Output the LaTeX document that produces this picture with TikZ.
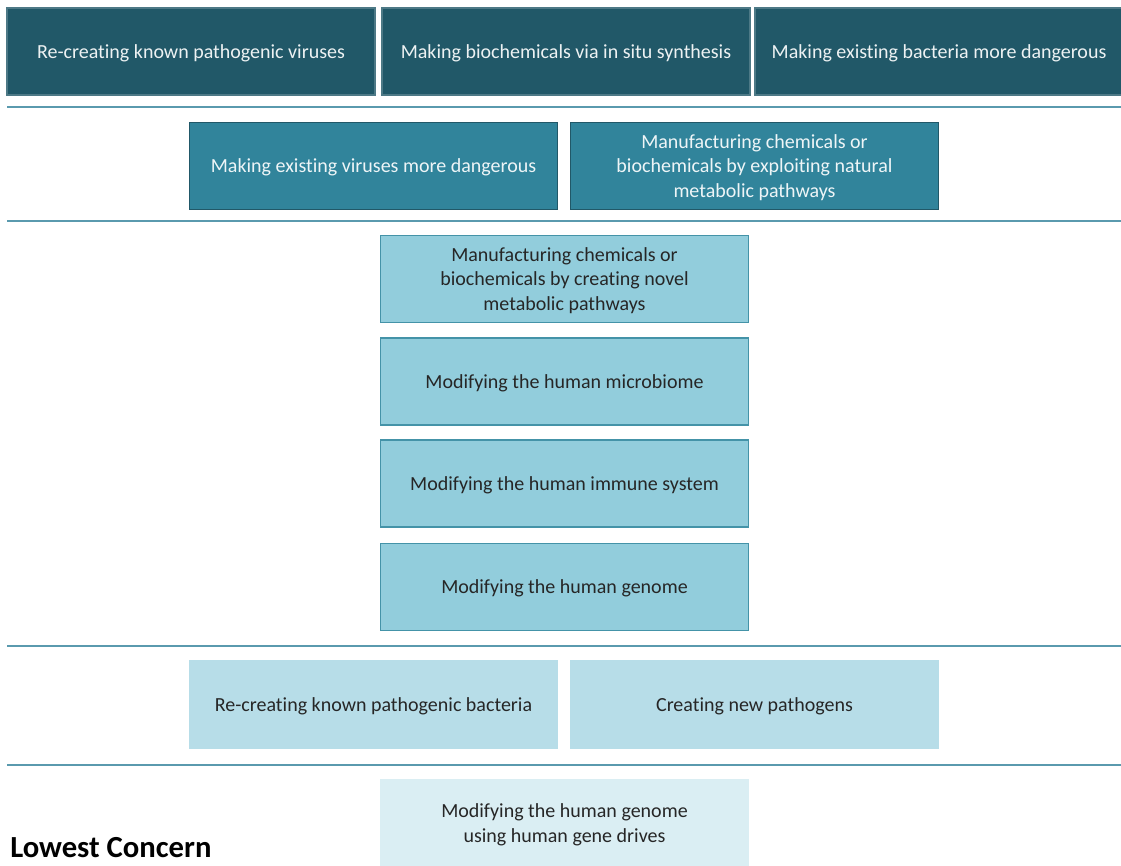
\documentclass[tikz,border=0pt]{standalone}
\usepackage{fontspec}
\setmainfont{Carlito}[Ligatures=NoCommon]
\definecolor{cA}{HTML}{215868}
\definecolor{cB}{HTML}{31849B}
\definecolor{cC}{HTML}{92CDDC}
\definecolor{cD}{HTML}{B7DDE8}
\definecolor{cE}{HTML}{DAEEF3}
\definecolor{lineC}{HTML}{5A9AAE}
\begin{document}
\begin{tikzpicture}[x=0.75pt,y=-0.75pt,
  box/.style={draw, line width=0.8pt, minimum width=368*0.75pt, minimum height=87*0.75pt, inner sep=0pt, align=center, text depth=0pt, font=\fontsize{15}{18.5}\selectfont},
  bA/.style={box, fill=cA, draw=cA!80!white, text=white!92!cA},
  bB/.style={box, fill=cB, draw=cA, text=white!92!cB},
  bC/.style={box, fill=cC, draw=cB!80!cC, text=black!85},
  bD/.style={box, fill=cD, draw=cD, text=black!85},
  bE/.style={box, fill=cE, draw=cE, text=black!85},
  sep/.style={draw=lineC, line width=1.4pt}]
\useasboundingbox (0,0) rectangle (1121,866);
\begin{scope}
\clip (0,0) rectangle (1121,866);
% row 1
\node[bA] (a1) at (191,51.5) {Re-creating known pathogenic viruses};
\node[bA] (a2) at (566,51.5) {Making biochemicals via in situ synthesis};
\node[bA] (a3) at (939,51.5) {Making existing bacteria more dangerous};
\coordinate (l1a) at (7,107); \coordinate (l1b) at (1121,107);
\draw[sep] (l1a) -- (l1b);
% row 2
\node[bB] (b1) at (373.5,166) {Making existing viruses more dangerous};
\node[bB] (b2) at (754.5,166) {Manufacturing chemicals or\\biochemicals by exploiting natural\\metabolic pathways};
\coordinate (l2a) at (7,221); \coordinate (l2b) at (1121,221);
\draw[sep] (l2a) -- (l2b);
% row 3
\node[bC] (c1) at (564.5,279) {Manufacturing chemicals or\\biochemicals by creating novel\\metabolic pathways};
\node[bC] (c2) at (564.5,381.5) {Modifying the human microbiome};
\node[bC] (c3) at (564.5,483.5) {Modifying the human immune system};
\node[bC] (c4) at (564.5,587) {Modifying the human genome};
\coordinate (l3a) at (7,646); \coordinate (l3b) at (1121,646);
\draw[sep] (l3a) -- (l3b);
% row 4
\node[bD] (d1) at (373.5,704.5) {Re-creating known pathogenic bacteria};
\node[bD] (d2) at (754.5,704.5) {Creating new pathogens};
\coordinate (l4a) at (7,765); \coordinate (l4b) at (1121,765);
\draw[sep] (l4a) -- (l4b);
% row 5
\node[bE] (e1) at (564.5,823) {Modifying the human genome\\using human gene drives};
\end{scope}
\node[anchor=base west, font=\bfseries\fontsize{23}{25}\selectfont, inner sep=0pt] (lc) at (10,857) {Lowest Concern};
\end{tikzpicture}
\end{document}
